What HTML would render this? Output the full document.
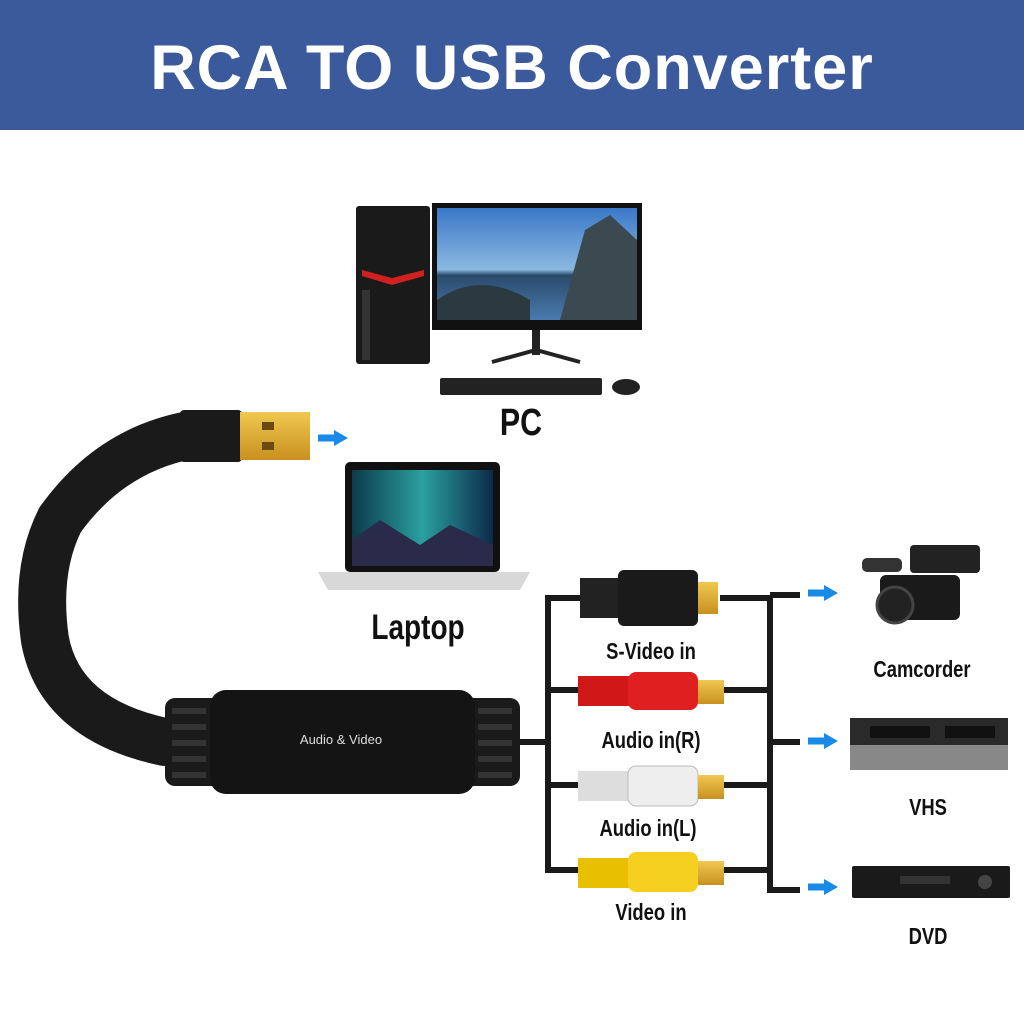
<!DOCTYPE html>
<html><head><meta charset="utf-8"><style>
html,body{margin:0;padding:0;background:#fff;}
body{width:1024px;height:1024px;position:relative;overflow:hidden;font-family:"Liberation Sans",sans-serif;}
.hdr{position:absolute;left:0;top:0;width:1024px;height:130px;background:#3b5a9c;}
.hdr div{position:absolute;left:0;width:1024px;top:32px;text-align:center;color:#fff;font-weight:bold;font-size:63px;letter-spacing:1px;}
.lb{position:absolute;font-family:"Liberation Sans",sans-serif;font-weight:bold;color:#111;white-space:nowrap;transform:translateX(-50%) scaleX(.8);}
</style></head><body>
<div class="hdr"><div>RCA TO USB Converter</div></div>
<svg width="1024" height="1024" style="position:absolute;left:0;top:0">
<defs>
<linearGradient id="sky" x1="0" y1="0" x2="0" y2="1"><stop offset="0" stop-color="#3a78c8"/><stop offset=".55" stop-color="#8ab8e0"/><stop offset=".6" stop-color="#2a4a6a"/><stop offset="1" stop-color="#4a7ab0"/></linearGradient>
<linearGradient id="lap" x1="0" y1="0" x2="1" y2="0"><stop offset="0" stop-color="#0c3a4a"/><stop offset=".5" stop-color="#2aa0a0"/><stop offset="1" stop-color="#0c2a4a"/></linearGradient>
<linearGradient id="gold" x1="0" y1="0" x2="0" y2="1"><stop offset="0" stop-color="#f0c850"/><stop offset="1" stop-color="#c89020"/></linearGradient>
<marker id="a" markerUnits="userSpaceOnUse" markerWidth="14" markerHeight="16" refX="2" refY="8" orient="auto"><path d="M0,0L14,8L0,16z" fill="#1a8ae8"/></marker>
</defs>
<rect x="356" y="206" width="74" height="158" rx="3" fill="#1a1a1a"/>
<path d="M362 270 L392 278 L424 270 L424 276 L392 285 L362 276z" fill="#d02020"/>
<rect x="362" y="290" width="8" height="70" fill="#333"/>
<rect x="432" y="203" width="210" height="127" fill="#111"/>
<rect x="437" y="208" width="200" height="112" fill="url(#sky)"/>
<path d="M560 320 L585 230 L610 215 L637 240 L637 320z" fill="#3a4a50"/>
<path d="M437 300 Q480 270 530 300 L530 320 L437 320z" fill="#2a3a40"/>
<rect x="532" y="330" width="8" height="25" fill="#222"/>
<path d="M492 362 L536 350 L580 362" stroke="#222" stroke-width="4" fill="none"/>
<rect x="440" y="378" width="162" height="17" rx="2" fill="#222"/>
<ellipse cx="626" cy="387" rx="14" ry="8" fill="#222"/>
<rect x="345" y="462" width="155" height="110" rx="5" fill="#111"/>
<rect x="352" y="470" width="141" height="96" fill="url(#lap)"/>
<path d="M352 540 L380 520 L420 545 L450 525 L493 545 L493 566 L352 566z" fill="#2a2a4a"/>
<path d="M318 572 L530 572 L520 590 L328 590z" fill="#d8d8d8"/>
<path d="M190 435 Q110 450 60 520 Q35 570 45 640 Q60 720 165 742" stroke="#1a1a1a" stroke-width="48" fill="none" stroke-linecap="round"/>
<rect x="180" y="410" width="62" height="52" rx="4" fill="#1a1a1a"/>
<rect x="240" y="412" width="70" height="48" fill="url(#gold)"/>
<rect x="262" y="422" width="12" height="8" fill="#6a4a10"/><rect x="262" y="442" width="12" height="8" fill="#6a4a10"/>
<line x1="318" y1="438" x2="336" y2="438" stroke="#1a8ae8" stroke-width="7" marker-end="url(#a)"/>
<rect x="165" y="698" width="355" height="88" rx="10" fill="#1a1a1a"/>
<g fill="#333">
<rect x="172" y="708" width="34" height="6"/><rect x="172" y="724" width="34" height="6"/><rect x="172" y="740" width="34" height="6"/><rect x="172" y="756" width="34" height="6"/><rect x="172" y="772" width="34" height="6"/>
<rect x="478" y="708" width="34" height="6"/><rect x="478" y="724" width="34" height="6"/><rect x="478" y="740" width="34" height="6"/><rect x="478" y="756" width="34" height="6"/><rect x="478" y="772" width="34" height="6"/>
</g>
<rect x="210" y="690" width="265" height="104" rx="16" fill="#141414"/>
<text x="341" y="744" fill="#ddd" font-size="13" text-anchor="middle" font-family="Liberation Sans">Audio &amp; Video</text>
<g stroke="#1a1a1a" stroke-width="6" fill="none">
<path d="M520 742 L548 742"/>
<path d="M580 598 L548 598 L548 870 L590 870"/>
<path d="M548 690 L585 690 M548 785 L585 785"/>
<path d="M720 598 L770 598 L770 890 L800 890 M720 690 L770 690 M720 785 L770 785 M720 870 L770 870 M770 742 L800 742 M770 595 L800 595"/>
</g>
<rect x="580" y="578" width="40" height="40" fill="#222"/><rect x="618" y="570" width="80" height="56" rx="6" fill="#1a1a1a"/>
<rect x="698" y="582" width="20" height="32" fill="url(#gold)"/>
<rect x="578" y="676" width="52" height="30" fill="#d01818"/><rect x="628" y="672" width="70" height="38" rx="8" fill="#e02020"/><rect x="698" y="680" width="26" height="24" fill="url(#gold)"/>
<rect x="578" y="771" width="52" height="30" fill="#ddd"/><rect x="628" y="766" width="70" height="40" rx="8" fill="#eee" stroke="#bbb"/><rect x="698" y="775" width="26" height="24" fill="url(#gold)"/>
<rect x="578" y="858" width="52" height="30" fill="#e8c000"/><rect x="628" y="852" width="70" height="40" rx="8" fill="#f5d020"/><rect x="698" y="861" width="26" height="24" fill="url(#gold)"/>
<g stroke="#1a8ae8" stroke-width="7">
<line x1="808" y1="593" x2="826" y2="593" marker-end="url(#a)"/>
<line x1="808" y1="741" x2="826" y2="741" marker-end="url(#a)"/>
<line x1="808" y1="887" x2="826" y2="887" marker-end="url(#a)"/>
</g>
<rect x="880" y="575" width="80" height="45" rx="6" fill="#1a1a1a"/>
<circle cx="895" cy="605" r="18" fill="#222" stroke="#444" stroke-width="3"/>
<rect x="910" y="545" width="70" height="28" rx="4" fill="#222"/>
<rect x="862" y="558" width="40" height="14" rx="5" fill="#333"/>
<rect x="850" y="718" width="158" height="52" fill="#2a2a2a"/><rect x="850" y="745" width="158" height="25" fill="#888"/>
<rect x="870" y="726" width="60" height="12" fill="#111"/><rect x="945" y="726" width="50" height="12" fill="#111"/>
<rect x="852" y="866" width="158" height="32" rx="2" fill="#1a1a1a"/><rect x="900" y="876" width="50" height="8" fill="#333"/><circle cx="985" cy="882" r="7" fill="#444"/>
</svg>
<div class="lb" style="left:521px;top:402px;font-size:38px">PC</div>
<div class="lb" style="left:418px;top:608px;font-size:35px">Laptop</div>
<div class="lb" style="left:651px;top:638px;font-size:23px">S-Video in</div>
<div class="lb" style="left:651px;top:727px;font-size:23px">Audio in(R)</div>
<div class="lb" style="left:648px;top:815px;font-size:23px">Audio in(L)</div>
<div class="lb" style="left:651px;top:899px;font-size:23px">Video in</div>
<div class="lb" style="left:922px;top:656px;font-size:23px">Camcorder</div>
<div class="lb" style="left:928px;top:794px;font-size:23px">VHS</div>
<div class="lb" style="left:928px;top:923px;font-size:23px">DVD</div>
</body></html>
